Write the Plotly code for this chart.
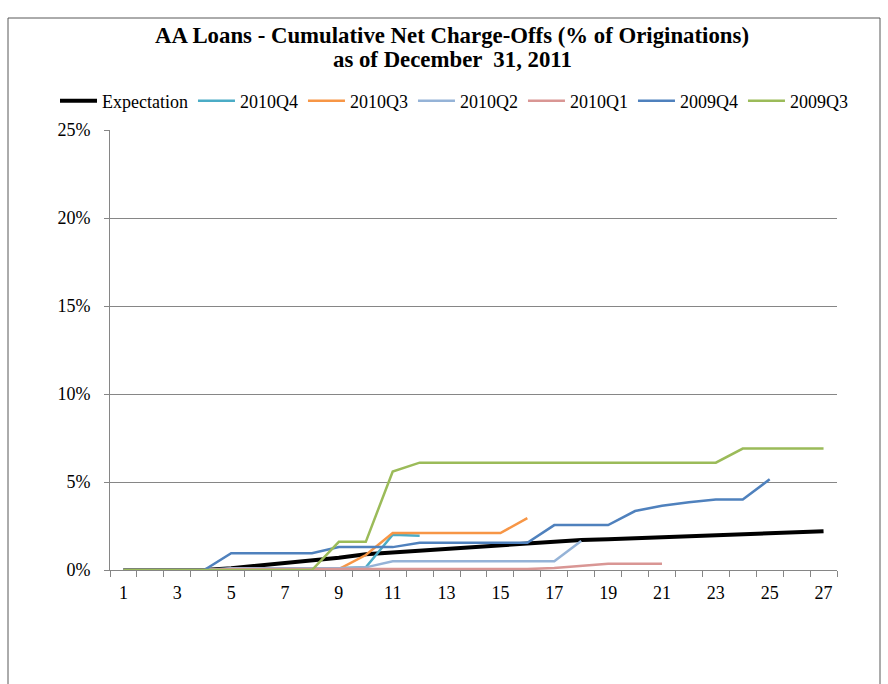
import plotly.graph_objects as go

months = list(range(1, 28))

expectation = [0, 0, 0, 0, 0.1, 0.25, 0.35, 0.55, 0.7, 0.9, 1.0, 1.1, 1.25, 1.35, 1.45,
               1.5, 1.6, 1.7, 1.75, 1.8, 1.85, 1.9, 1.95, 2.05, 2.1, 2.15, 2.2]
s2010q4 = [0, 0, 0, 0, 0.05, 0.05, 0.05, 0.1, 0.1, 0.15, 2.0, 1.95]
s2010q3 = [0, 0, 0, 0, 0.05, 0.05, 0.05, 0.05, 0.05, 0.85, 2.1, 2.1, 2.1, 2.1, 2.1, 2.95]
s2010q2 = [0, 0, 0, 0, 0.1, 0.1, 0.1, 0.1, 0.1, 0.15, 0.5, 0.5, 0.5, 0.5, 0.5, 0.5, 0.5, 1.65]
s2010q1 = [0, 0, 0, 0, 0.05, 0.05, 0.05, 0.05, 0.05, 0.05, 0.05, 0.05, 0.05, 0.05, 0.05,
           0.05, 0.12, 0.25, 0.35, 0.35, 0.35]
s2009q4 = [0, 0, 0, 0, 0.95, 0.95, 0.95, 0.95, 1.3, 1.3, 1.3, 1.55, 1.55, 1.55, 1.55,
           1.55, 2.55, 2.55, 2.55, 3.35, 3.65, 3.85, 4.0, 4.0, 5.15]
s2009q3 = [0, 0, 0, 0, 0, 0, 0, 0, 1.6, 1.6, 5.6, 6.1, 6.1, 6.1, 6.1, 6.1, 6.1, 6.1, 6.1,
           6.1, 6.1, 6.1, 6.1, 6.9, 6.9, 6.9, 6.9]

series = [
    ("Expectation", expectation, "#000000", 4),
    ("2010Q4", s2010q4, "#4BACC6", 2.5),
    ("2010Q3", s2010q3, "#F79646", 2.5),
    ("2010Q2", s2010q2, "#95B3D7", 2.5),
    ("2010Q1", s2010q1, "#D99694", 2.5),
    ("2009Q4", s2009q4, "#4F81BD", 2.5),
    ("2009Q3", s2009q3, "#9BBB59", 2.5),
]

title_line1 = "AA Loans - Cumulative Net Charge-Offs (% of Originations)"
title_line2 = "as of December  31, 2011"

y_ticks = [0, 5, 10, 15, 20, 25]
y_labels = [f"{v}%" for v in y_ticks]
x_labels = list(range(1, 28, 2))

fig = go.Figure()
for name, vals, color, w in series:
    fig.add_trace(go.Scatter(x=months[:len(vals)], y=vals, name=name, mode="lines",
                             line=dict(color=color, width=w)))

font = "Liberation Serif"
grid = "#868686"

L, R, T, B = 110, 51, 130, 114
W, H = 888, 684
pw, ph = W - L - R, H - T - B

def px2x(px):
    return (px - L) / pw

def py2y(py):
    return (H - B - py) / ph

fig.update_layout(
    width=W, height=H,
    margin=dict(l=L, r=R, t=T, b=B),
    paper_bgcolor="white", plot_bgcolor="white",
    font=dict(family=font, size=18, color="#000000"),
    title=dict(text=title_line1,
               x=452 / W, xanchor="center", y=1 - 35 / H, yanchor="middle",
               font=dict(family=font, size=22.8, color="#000000", weight="bold")),
    annotations=[dict(text=title_line2, xref="paper", yref="paper", x=px2x(452), y=py2y(59),
                      xanchor="center", yanchor="middle", showarrow=False,
                      font=dict(family=font, size=22.8, color="#000000", weight="bold"))],
    legend=dict(orientation="h", x=px2x(55), xanchor="left", y=py2y(101), yanchor="middle",
                font=dict(family=font, size=18), traceorder="normal", itemwidth=37,
                tracegroupgap=0, bgcolor="rgba(0,0,0,0)"),
    showlegend=True,
    xaxis=dict(range=[0.5, 27.5], tickvals=x_labels, ticktext=[str(v) for v in x_labels],
               ticks="", showgrid=False, zeroline=False, showline=True,
               linecolor=grid, linewidth=1, ticklabelstandoff=6,
               minor=dict(tick0=0.5, dtick=1, ticks="outside", ticklen=6, tickcolor=grid,
                          showgrid=False),
               tickfont=dict(family=font, size=18), fixedrange=True),
    yaxis=dict(range=[0, 25], tickvals=y_ticks, ticktext=y_labels, ticks="outside",
               ticklen=5, tickcolor=grid, showgrid=True, gridcolor=grid, gridwidth=1,
               zeroline=False, showline=True, linecolor=grid, linewidth=1,
               ticklabelstandoff=10, tickfont=dict(family=font, size=18)),
    shapes=[dict(type="rect", xref="paper", yref="paper",
                 x0=px2x(8), x1=px2x(880), y0=py2y(690), y1=py2y(18),
                 line=dict(color="#595959", width=1), layer="below")],
)

fig.write_html("out.html", config={"displayModeBar": False},
               post_script="document.body.style.margin='0';document.body.style.padding='0';")
